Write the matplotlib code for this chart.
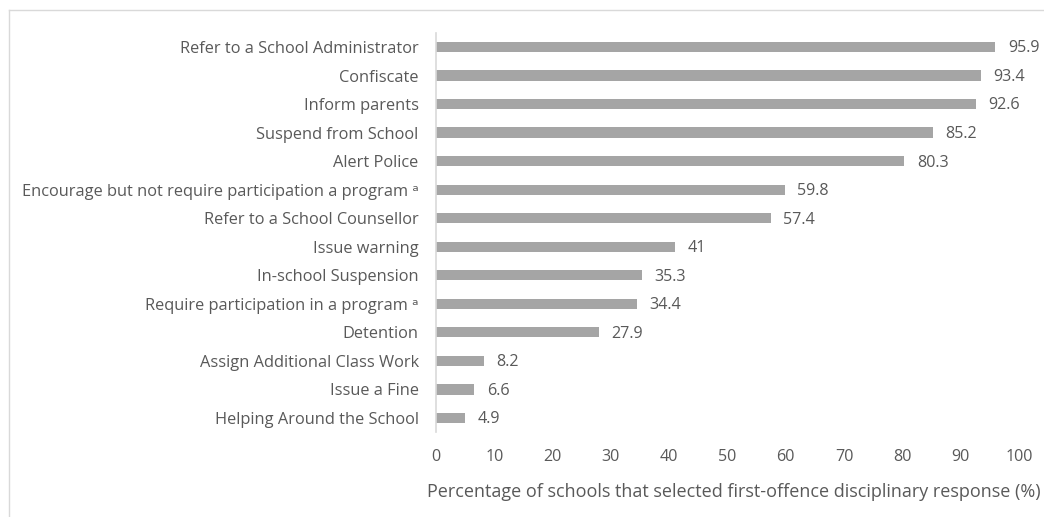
import matplotlib.pyplot as plt
from matplotlib.lines import Line2D

labels = ['Refer to a School Administrator', 'Confiscate', 'Inform parents',
          'Suspend from School', 'Alert Police',
          'Encourage but not require participation a program \u1d43',
          'Refer to a School Counsellor', 'Issue warning', 'In-school Suspension',
          'Require participation in a program \u1d43', 'Detention',
          'Assign Additional Class Work', 'Issue a Fine', 'Helping Around the School']
values = [95.9, 93.4, 92.6, 85.2, 80.3, 59.8, 57.4, 41, 35.3, 34.4, 27.9, 8.2, 6.6, 4.9]
value_text = ['95.9', '93.4', '92.6', '85.2', '80.3', '59.8', '57.4', '41', '35.3',
              '34.4', '27.9', '8.2', '6.6', '4.9']
xticks = list(range(0, 101, 10))

plt.rcParams['font.family'] = ['Open Sans', 'DejaVu Sans']
txt = '#595959'

fig = plt.figure(figsize=(10.44, 5.17), dpi=100)
ax = fig.add_axes([436 / 1044, 0.164, 583 / 1044, 0.7727])

pos = list(range(len(values)))
ax.barh(pos, values, height=0.36, color='#a5a5a5')
for p, v, t in zip(pos, values, value_text):
    ax.text(v + 2.2, p + 0.05, t, va='center', ha='left', fontsize=11.6, color=txt)

ax.set_ylim(len(values) - 0.5, -0.5)
ax.set_xlim(0, 100)
ax.set_yticks(pos)
ax.set_yticklabels(labels, fontsize=11.8, color=txt)
ax.set_xticks(xticks)
ax.set_xticklabels([str(x) for x in xticks], fontsize=11.6, color=txt)
ax.tick_params(axis='both', length=0)
ax.tick_params(axis='y', pad=12.5)
ax.tick_params(axis='x', pad=12)
ax.set_xlabel('Percentage of schools that selected first-offence disciplinary response (%)',
              fontsize=13.0, color=txt)
ax.xaxis.set_label_coords(0.5 + 6 / 583, -0.126)
for s in ['top', 'right', 'bottom']:
    ax.spines[s].set_visible(False)
ax.spines['left'].set_color('#d9d9d9')
ax.spines['left'].set_linewidth(1.2)

# light chart-area border
fig.add_artist(Line2D([9 / 1044, 9 / 1044], [0, 1 - 10 / 517], color='#d9d9d9', lw=1))
fig.add_artist(Line2D([9 / 1044, 1], [1 - 10 / 517, 1 - 10 / 517], color='#d9d9d9', lw=1))

fig.savefig('out.png', dpi=100)
